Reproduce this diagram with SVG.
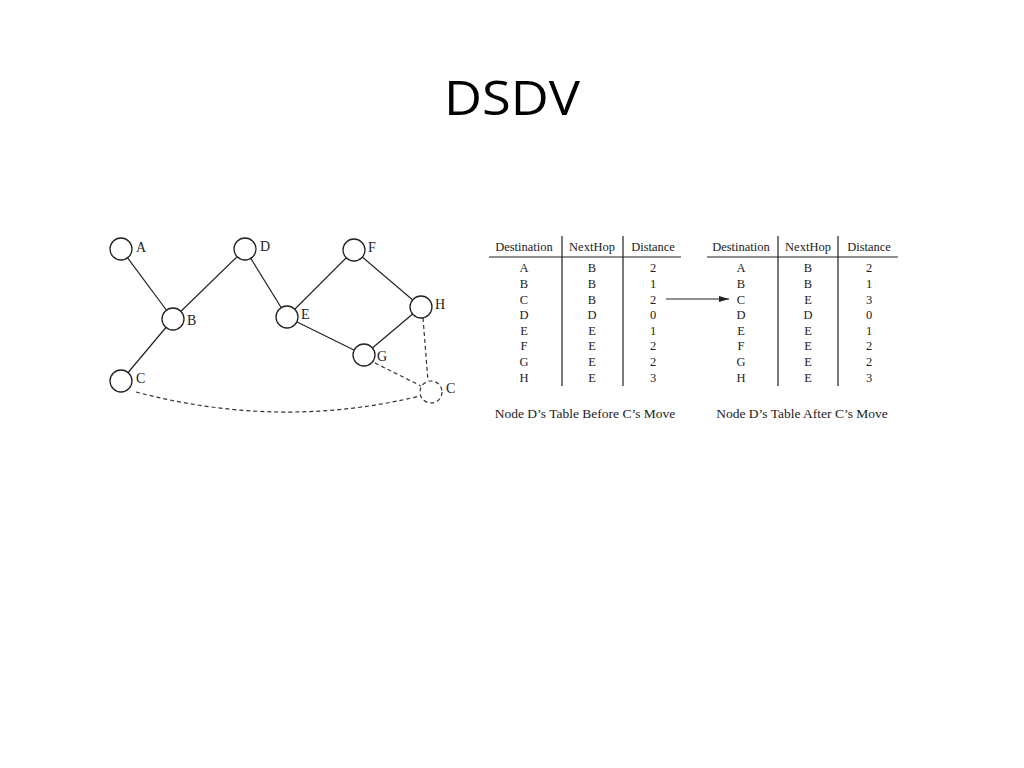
<svg xmlns="http://www.w3.org/2000/svg" width="1024" height="768" viewBox="0 0 1024 768">
<defs><marker id="ah" viewBox="0 0 10 6" refX="10" refY="3" markerWidth="10" markerHeight="6" markerUnits="userSpaceOnUse" orient="auto"><path d="M0,0L10,3L0,6z" fill="#222"/></marker></defs>
<style>
.n{fill:#fff;stroke:#222;stroke-width:1.3}
.l{stroke:#222;stroke-width:1.2;fill:none}
.d{stroke:#333;stroke-width:1.2;fill:none;stroke-dasharray:4,3}
.t{font-family:"Liberation Serif",serif;font-size:14px;fill:#222}
.c{font-family:"Liberation Serif",serif;font-size:12.5px;fill:#222;text-anchor:middle}
.cap{font-family:"Liberation Serif",serif;font-size:13.5px;fill:#222;text-anchor:middle}
</style>
<rect width="1024" height="768" fill="#fff"/>
<text x="512" y="115" font-family="Open Sans,Liberation Sans,sans-serif" font-size="48" text-anchor="middle" fill="#000" textLength="136" lengthAdjust="spacingAndGlyphs">DSDV</text>
<g id="connectors">
<line class="l" x1="121" y1="249" x2="173" y2="319"/>
<line class="l" x1="173" y1="319" x2="245" y2="249"/>
<line class="l" x1="173" y1="319" x2="121" y2="381"/>
<line class="l" x1="245" y1="249" x2="287" y2="317"/>
<line class="l" x1="287" y1="317" x2="354" y2="250"/>
<line class="l" x1="354" y1="250" x2="421" y2="307"/>
<line class="l" x1="287" y1="317" x2="364" y2="355"/>
<line class="l" x1="364" y1="355" x2="421" y2="307"/>
<line class="d" x1="423" y1="318" x2="428" y2="381"/>
<line class="d" x1="375" y1="363" x2="421" y2="386"/>
<path class="d" d="M136,392 Q280,430 420,396"/>
<line class="l" x1="666" y1="299" x2="729" y2="299" marker-end="url(#ah)"/>
</g>
<g id="A"><circle class="n" cx="121" cy="249" r="11"/><text class="t" x="136" y="252">A</text></g>
<g id="D"><circle class="n" cx="245" cy="249" r="11"/><text class="t" x="260" y="251">D</text></g>
<g id="F"><circle class="n" cx="354" cy="250" r="11"/><text class="t" x="368" y="252">F</text></g>
<g id="B"><circle class="n" cx="173" cy="319" r="11"/><text class="t" x="187" y="325">B</text></g>
<g id="E"><circle class="n" cx="287" cy="317" r="11"/><text class="t" x="301" y="319">E</text></g>
<g id="H"><circle class="n" cx="421" cy="307" r="11"/><text class="t" x="435" y="309">H</text></g>
<g id="G"><circle class="n" cx="364" cy="355" r="11"/><text class="t" x="377" y="361">G</text></g>
<g id="C"><circle class="n" cx="121" cy="381" r="11"/><text class="t" x="136" y="383">C</text></g>
<g id="C2"><circle class="d" cx="431" cy="392" r="11"/><text class="t" x="446" y="393">C</text></g>
<g id="table-before">
<line class="l" x1="489" y1="257" x2="681" y2="257"/>
<line class="l" x1="562" y1="236" x2="562" y2="386"/>
<line class="l" x1="623" y1="236" x2="623" y2="386"/>
<text class="c" x="524" y="251">Destination</text><text class="c" x="592" y="251">NextHop</text><text class="c" x="653" y="251">Distance</text>
<g class="c">
<text x="524" y="272">A</text><text x="592" y="272">B</text><text x="653" y="272">2</text>
<text x="524" y="288">B</text><text x="592" y="288">B</text><text x="653" y="288">1</text>
<text x="524" y="304">C</text><text x="592" y="304">B</text><text x="653" y="304">2</text>
<text x="524" y="319">D</text><text x="592" y="319">D</text><text x="653" y="319">0</text>
<text x="524" y="335">E</text><text x="592" y="335">E</text><text x="653" y="335">1</text>
<text x="524" y="350">F</text><text x="592" y="350">E</text><text x="653" y="350">2</text>
<text x="524" y="366">G</text><text x="592" y="366">E</text><text x="653" y="366">2</text>
<text x="524" y="382">H</text><text x="592" y="382">E</text><text x="653" y="382">3</text>
</g>
<text class="cap" x="585" y="418">Node D’s Table Before C’s Move</text>
</g>
<g id="table-after">
<line class="l" x1="707" y1="257" x2="898" y2="257"/>
<line class="l" x1="778" y1="236" x2="778" y2="386"/>
<line class="l" x1="838" y1="236" x2="838" y2="386"/>
<text class="c" x="741" y="251">Destination</text><text class="c" x="808" y="251">NextHop</text><text class="c" x="869" y="251">Distance</text>
<g class="c">
<text x="741" y="272">A</text><text x="808" y="272">B</text><text x="869" y="272">2</text>
<text x="741" y="288">B</text><text x="808" y="288">B</text><text x="869" y="288">1</text>
<text x="741" y="304">C</text><text x="808" y="304">E</text><text x="869" y="304">3</text>
<text x="741" y="319">D</text><text x="808" y="319">D</text><text x="869" y="319">0</text>
<text x="741" y="335">E</text><text x="808" y="335">E</text><text x="869" y="335">1</text>
<text x="741" y="350">F</text><text x="808" y="350">E</text><text x="869" y="350">2</text>
<text x="741" y="366">G</text><text x="808" y="366">E</text><text x="869" y="366">2</text>
<text x="741" y="382">H</text><text x="808" y="382">E</text><text x="869" y="382">3</text>
</g>
<text class="cap" x="802" y="418">Node D’s Table After C’s Move</text>
</g>
</svg>
